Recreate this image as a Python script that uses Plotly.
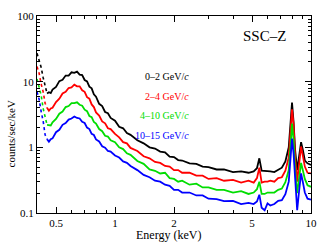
import plotly.graph_objects as go

energy = [0.40, 0.41, 0.42, 0.43, 0.44, 0.45, 0.46, 0.47, 0.48, 0.50, 0.52, 0.54, 0.56, 0.58,
          0.60, 0.62, 0.64, 0.66, 0.68, 0.70, 0.72, 0.74, 0.76, 0.78, 0.80, 0.83, 0.86, 0.89,
          0.92, 0.95, 1.0, 1.05, 1.1, 1.15, 1.2, 1.3, 1.4, 1.5, 1.6, 1.7, 1.8, 1.9, 2.0, 2.1,
          2.2, 2.4, 2.6, 2.8, 3.0, 3.3, 3.6, 4.0, 4.4, 4.8, 5.1, 5.3, 5.45, 5.6, 5.8, 6.0, 6.2,
          6.5, 6.8, 7.1, 7.4, 7.7, 7.85, 8.0, 8.15, 8.3, 8.5, 8.7, 8.9, 9.1, 9.3, 9.6, 10.0]

s_0_2 = [27, 21, 16.5, 11.5, 8.8, 6.6, 6.9, 6.7, 7.6, 8.3, 10.2, 10.7, 12.4, 12.4,
         13.9, 13.6, 14.2, 12.8, 12.6, 10.6, 10.1, 8.4, 7.9, 6.4, 5.9, 4.6, 4.25, 3.45,
         3.3, 2.8, 2.55, 2.05, 1.95, 1.65, 1.55, 1.28, 1.15, 1.0, 0.96, 0.86, 0.84, 0.72, 0.71, 0.64,
         0.63, 0.57, 0.56, 0.51, 0.50, 0.46, 0.46, 0.42, 0.43, 0.41, 0.43, 0.48, 0.68, 0.44, 0.44, 0.44, 0.43,
         0.42, 0.46, 0.49, 0.61, 1.0, 2.2, 4.8, 2.4, 0.9, 0.45, 0.7, 1.2, 0.9, 0.63, 0.57, 0.54]

s_2_4 = [17, 13.5, 9.2, 7.0, 4.7, 4.0, 3.6, 3.9, 4.0, 4.9, 5.5, 6.6, 7.0, 8.0,
         8.2, 9.0, 8.5, 8.5, 7.4, 7.0, 5.8, 5.5, 4.5, 4.1, 3.4, 3.05, 2.48, 2.32,
         1.95, 1.9, 1.6, 1.42, 1.2, 1.15, 0.98, 0.88, 0.73, 0.68, 0.60, 0.58, 0.52, 0.51, 0.45, 0.45,
         0.41, 0.41, 0.37, 0.37, 0.33, 0.34, 0.31, 0.32, 0.29, 0.31, 0.29, 0.34, 0.49, 0.29, 0.30, 0.30, 0.31,
         0.30, 0.34, 0.35, 0.44, 0.7, 1.6, 3.8, 2.2, 0.7, 0.30, 0.55, 1.03, 0.73, 0.51, 0.41, 0.40]

s_4_10 = [11, 8.3, 6.2, 3.9, 2.9, 2.2, 2.2, 2.15, 2.4, 2.7, 3.25, 3.5, 4.1, 4.25,
          4.7, 4.7, 4.85, 4.45, 4.3, 3.75, 3.55, 3.0, 2.88, 2.44, 2.3, 1.9, 1.76, 1.5,
          1.46, 1.28, 1.2, 1.0, 0.94, 0.81, 0.77, 0.62, 0.56, 0.46, 0.44, 0.40, 0.41, 0.34, 0.33, 0.30,
          0.31, 0.27, 0.28, 0.245, 0.245, 0.225, 0.225, 0.205, 0.215, 0.195, 0.205, 0.23, 0.30, 0.195, 0.195, 0.205, 0.205,
          0.205, 0.225, 0.235, 0.295, 0.45, 1.0, 2.3, 1.3, 0.45, 0.20, 0.35, 0.58, 0.44, 0.33, 0.265, 0.25]

s_10_15 = [7, 5.4, 3.5, 2.5, 1.55, 1.33, 1.22, 1.33, 1.37, 1.7, 1.85, 2.2, 2.35, 2.65,
           2.75, 2.95, 2.8, 2.75, 2.45, 2.35, 2.0, 1.9, 1.6, 1.54, 1.32, 1.23, 1.04, 0.99,
           0.88, 0.86, 0.75, 0.70, 0.61, 0.58, 0.52, 0.45, 0.38, 0.35, 0.31, 0.30, 0.27, 0.26, 0.225, 0.225,
           0.205, 0.205, 0.185, 0.185, 0.165, 0.163, 0.152, 0.153, 0.137, 0.143, 0.137, 0.15, 0.19, 0.12, 0.11, 0.14, 0.13,
           0.137, 0.153, 0.157, 0.193, 0.30, 0.65, 1.36, 0.8, 0.28, 0.11, 0.22, 0.40, 0.29, 0.205, 0.165, 0.16]

series_names = ["0\u20132 GeV/<i>c</i>", "2\u20134 GeV/<i>c</i>", "4\u201310 GeV/<i>c</i>", "10\u201315 GeV/<i>c</i>"]
series_values = [s_0_2, s_2_4, s_4_10, s_10_15]
colors = ["black", "#ff0000", "#00dd00", "#0000ff"]

x_tickvals = [0.5, 1, 2, 5, 10]
x_ticktext = ["0.5", "1", "2", "5", "10"]
y_tickvals = [0.1, 1, 10, 100]
y_ticktext = ["0.1", "1", "10", "100"]

FONT = "Liberation Serif, Times New Roman, serif"
N_LOW = 6  # low-energy sparse bins drawn dotted

fig = go.Figure()
for name, vals, col in zip(series_names, series_values, colors):
    fig.add_trace(go.Scatter(x=energy[:N_LOW], y=vals[:N_LOW], mode="lines",
                             line=dict(color=col, width=1.6, dash="dot"), showlegend=False))
    fig.add_trace(go.Scatter(x=energy[N_LOW - 1:], y=vals[N_LOW - 1:], mode="lines", name=name,
                             line=dict(color=col, width=1.8), showlegend=False))

x_minor = [0.4, 0.6, 0.7, 0.8, 0.9, 3, 4, 6, 7, 8, 9]
y_minor = []
for dec in [0.1, 1, 10]:
    for k in range(2, 10):
        y_minor.append(dec * k)

axis_common = dict(showline=True, linecolor="black", linewidth=1, ticks="inside",
                   mirror="allticks", showgrid=False, zeroline=False, tickcolor="black",
                   ticklen=6, tickfont=dict(family=FONT, size=11, color="black"))

fig.update_xaxes(type="log", range=[-0.398, 1.0], tickmode="array", tickvals=x_tickvals,
                 ticktext=x_ticktext,
                 minor=dict(tickmode="array", tickvals=x_minor, ticks="inside", ticklen=3,
                            tickcolor="black", showgrid=False),
                 **axis_common)
fig.update_yaxes(type="log", range=[-1, 2], tickmode="array", tickvals=y_tickvals,
                 ticktext=y_ticktext,
                 minor=dict(tickmode="array", tickvals=y_minor, ticks="inside", ticklen=3,
                            tickcolor="black", showgrid=False),
                 **axis_common)

label_y = [0.695, 0.593, 0.493, 0.394]
annotations = []
for name, col, yy in zip(series_names, colors, label_y):
    annotations.append(dict(x=0.563, y=yy, xref="paper", yref="paper", text=name,
                            showarrow=False, font=dict(family=FONT, size=10, color=col),
                            xanchor="right", yanchor="middle"))
annotations.append(dict(x=0.83, y=0.90, xref="paper", yref="paper", text="SSC\u2013Z",
                        showarrow=False, font=dict(family=FONT, size=15, color="black"),
                        xanchor="center", yanchor="middle"))
annotations.append(dict(x=0.48, y=-0.113, xref="paper", yref="paper", text="Energy (keV)",
                        showarrow=False, font=dict(family=FONT, size=12, color="black"),
                        xanchor="center", yanchor="middle"))
annotations.append(dict(x=-0.095, y=0.404, xref="paper", yref="paper", text="counts/sec/keV",
                        showarrow=False, textangle=-90,
                        font=dict(family=FONT, size=11, color="black"),
                        xanchor="center", yanchor="middle"))

fig.update_layout(width=327, height=244, margin=dict(l=37, r=13, t=10, b=31),
                  paper_bgcolor="white", plot_bgcolor="white",
                  font=dict(family=FONT, color="black"),
                  annotations=annotations)

fig.write_html("out.html", config={"displayModeBar": False},
               post_script="document.body.style.margin='0';")
